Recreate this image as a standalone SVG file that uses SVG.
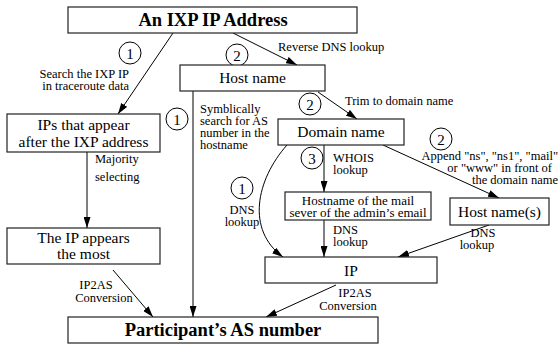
<svg xmlns="http://www.w3.org/2000/svg" width="559" height="346" viewBox="0 0 559 346" font-family="'Liberation Serif', 'Times New Roman', serif">
<defs>
<marker id="ah" markerWidth="11" markerHeight="7" refX="11" refY="3.5" orient="auto" markerUnits="userSpaceOnUse">
<path d="M0,0 L11,3.5 L0,7 z" fill="#000"/>
</marker>
<style>
text{font-family:'Liberation Serif','Times New Roman',serif;fill:#000}
.box{fill:#fff;stroke:#222;stroke-width:1.2}
.title{font-size:18.5px;font-weight:bold;text-anchor:middle}
.node{font-size:15.5px;text-anchor:middle}
.small{font-size:13px;text-anchor:middle}
.lab{font-size:12.5px}
.num{font-size:15px;text-anchor:middle}
.c{fill:none;stroke:#000;stroke-width:1}
.ln{fill:none;stroke:#000;stroke-width:1;marker-end:url(#ah)}
</style>
</defs>
<rect width="559" height="346" fill="#fff"/>
<g id="connectors">
<path class="ln" d="M173,33 L118,114"/>
<path class="ln" d="M233,33 L297,65"/>
<path class="ln" d="M193,91 L193,317"/>
<path class="ln" d="M318,92 L357,119"/>
<path class="ln" d="M324,145 L324,192"/>
<path class="ln" d="M287,145 C256,180 246,230 283,257"/>
<path class="ln" d="M383,145 L499,198"/>
<path class="ln" d="M87,152 L87,228"/>
<path class="ln" d="M324,220 L324,257"/>
<path class="ln" d="M489,225 L398,257"/>
<path class="ln" d="M113,270 L153,317"/>
<path class="ln" d="M336,285 L266,317"/>
</g>
<g id="labels">
<circle class="c" cx="130" cy="53" r="11"/><text class="num" x="130" y="58.5">1</text>
<text class="lab" x="129" y="78" text-anchor="end">Search the IXP IP</text>
<text class="lab" x="129" y="90" text-anchor="end">in traceroute data</text>
<circle class="c" cx="237" cy="55" r="11"/><text class="num" x="237" y="60.5">2</text>
<text class="lab" x="278" y="51">Reverse DNS lookup</text>
<circle class="c" cx="177" cy="119" r="11"/><text class="num" x="177" y="124.5">1</text>
<text class="lab" x="200" y="113">Symblically</text>
<text class="lab" x="200" y="125">search for AS</text>
<text class="lab" x="200" y="137">number in the</text>
<text class="lab" x="200" y="149">hostname</text>
<circle class="c" cx="310" cy="104" r="11"/><text class="num" x="310" y="109.5">2</text>
<text class="lab" x="345" y="105">Trim to domain name</text>
<text class="lab" x="95" y="163">Majority</text>
<text class="lab" x="95" y="181">selecting</text>
<circle class="c" cx="312" cy="158" r="11"/><text class="num" x="312" y="163.5">3</text>
<text class="lab" x="333" y="162">WHOIS</text>
<text class="lab" x="333" y="174">lookup</text>
<circle class="c" cx="242" cy="188" r="11"/><text class="num" x="242" y="193.5">1</text>
<text class="lab" x="242" y="214" text-anchor="middle">DNS</text>
<text class="lab" x="242" y="226" text-anchor="middle">lookup</text>
<circle class="c" cx="441" cy="139" r="11"/><text class="num" x="441" y="144.5">2</text>
<text class="lab" x="558" y="160" text-anchor="end">Append "ns", "ns1", "mail"</text>
<text class="lab" x="552" y="172" text-anchor="end">or "www" in front of</text>
<text class="lab" x="558" y="184" text-anchor="end">the domain name</text>
<text class="lab" x="333" y="234">DNS</text>
<text class="lab" x="333" y="246">lookup</text>
<text class="lab" x="483" y="237" text-anchor="middle">DNS</text>
<text class="lab" x="477" y="249" text-anchor="middle">lookup</text>
<text class="lab" x="96" y="289" text-anchor="middle">IP2AS</text>
<text class="lab" x="104" y="302" text-anchor="middle">Conversion</text>
<text class="lab" x="355" y="297" text-anchor="middle">IP2AS</text>
<text class="lab" x="348" y="310" text-anchor="middle">Conversion</text>
</g>
<g id="n-ixp"><rect class="box" x="68" y="7" width="289" height="26"/><text class="title" x="213" y="26">An IXP IP Address</text></g>
<g id="n-hostname"><rect class="box" x="180" y="65" width="145" height="26"/><text class="node" x="252.5" y="83">Host name</text></g>
<g id="n-ips"><rect class="box" x="7" y="114" width="153" height="38"/><text class="node" x="83.5" y="130">IPs that appear</text><text class="node" x="83.5" y="147">after the IXP address</text></g>
<g id="n-domain"><rect class="box" x="278" y="119" width="126" height="26"/><text class="node" x="341" y="137">Domain name</text></g>
<g id="n-mail"><rect class="box" x="285" y="192" width="146" height="28"/><text class="small" x="358" y="205">Hostname of the mail</text><text class="small" x="358" y="217">sever of the admin’s email</text></g>
<g id="n-hosts"><rect class="box" x="450" y="198" width="99" height="27"/><text class="node" x="499.5" y="217">Host name(s)</text></g>
<g id="n-ipappears"><rect class="box" x="7" y="228" width="153" height="36"/><text class="node" x="83.5" y="243">The IP appears</text><text class="node" x="83.5" y="259">the most</text></g>
<g id="n-ip"><rect class="box" x="265" y="257" width="172" height="26"/><text class="node" x="351" y="276">IP</text></g>
<g id="n-as"><rect class="box" x="68" y="317" width="310" height="26"/><text class="title" x="223" y="336">Participant’s AS number</text></g>
</svg>
